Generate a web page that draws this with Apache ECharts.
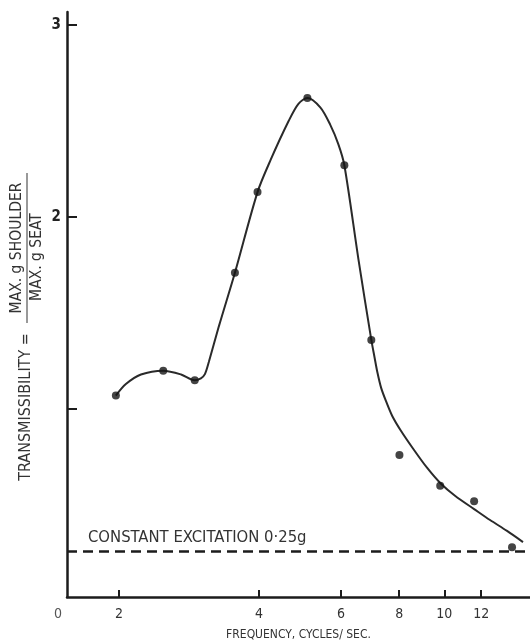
<!DOCTYPE html>
<html>
<head>
<meta charset="utf-8">
<script src="https://cdn.jsdelivr.net/npm/echarts@6/dist/echarts.min.js"></script>
<style>
html,body{margin:0;padding:0;background:#fff;}
#chart{width:530px;height:641px;}
</style>
</head>
<body>
<div id="chart"></div>
<script>
// ---- data ----
const measuredFreq = [1.97, 2.49, 2.91, 3.55, 3.97, 5.08, 6.10, 6.97, 8.01, 9.80, 11.59, 13.98];
const measuredVal  = [1.07, 1.20, 1.15, 1.71, 2.13, 2.62, 2.27, 1.36, 0.76, 0.60, 0.52, 0.28];

const curveFreq = [1.97, 2.07, 2.23, 2.49, 2.72, 2.91, 3.00, 3.06, 3.12, 3.28, 3.55, 3.97, 4.24, 4.63, 4.86, 5.08, 5.42, 5.69, 5.92, 6.10, 6.54, 6.97, 7.08, 7.18, 7.32, 7.51, 7.73, 8.05, 8.58, 9.19, 9.80, 10.56, 11.59, 12.54, 13.64, 14.76];
const curveVal  = [1.07, 1.13, 1.18, 1.20, 1.18, 1.15, 1.16, 1.182, 1.245, 1.432, 1.71, 2.13, 2.30, 2.50, 2.59, 2.62, 2.57, 2.48, 2.38, 2.27, 1.78, 1.36, 1.271, 1.193, 1.109, 1.036, 0.964, 0.891, 0.792, 0.693, 0.615, 0.547, 0.479, 0.422, 0.365, 0.307];

const excitationLevel = 0.26;
const excitationLabel = 'CONSTANT EXCITATION 0·25g';

const xTickValues = [2, 4, 6, 8, 10, 12];
const yTickValues = [1, 2, 3];
const yLabelValues = [2, 3];
const xMin = 1.547, xMax = 15.28;
const yMin = 0.021, yMax = 3.068;

const xName = 'FREQUENCY, CYCLES/ SEC.';
const yNameMain = 'TRANSMISSIBILITY =';
const yNameNum = 'MAX. g SHOULDER';
const yNameDen = 'MAX. g SEAT';

// ---- chart ----
const FONT = "'DejaVu Sans Condensed', 'DejaVu Sans', sans-serif";
const INK = '#1c1c1c';
const chart = echarts.init(document.getElementById('chart'), null, {renderer: 'canvas'});

const option = {
  animation: false,
  backgroundColor: '#ffffff',
  grid: {left: 67, right: 0, top: 12, bottom: 44, containLabel: false, outerBoundsMode: 'none'},
  xAxis: {
    type: 'log',
    min: xMin,
    max: xMax,
    name: xName,
    nameLocation: 'middle',
    nameGap: 32,
    nameTextStyle: {fontFamily: FONT, fontSize: 12, color: '#333'},
    axisLine: {show: true, lineStyle: {color: INK, width: 2.5}},
    axisTick: {show: true, inside: true, length: 7, lineStyle: {color: INK, width: 2}, customValues: xTickValues},
    axisLabel: {
      show: true, margin: 10, fontFamily: FONT, fontSize: 14, color: '#333',
      customValues: [xMin].concat(xTickValues),
      formatter: function (v) { return v < 1.9 ? '{z|0}' : String(Math.round(v)); },
      rich: {z: {fontFamily: FONT, fontSize: 14, color: '#555', padding: [0, 18, 0, 0]}}
    },
    splitLine: {show: false},
    minorTick: {show: false}
  },
  yAxis: {
    type: 'value',
    min: yMin,
    max: yMax,
    axisLine: {show: true, lineStyle: {color: INK, width: 2.5}},
    axisTick: {show: true, inside: true, length: 10, lineStyle: {color: INK, width: 2}, customValues: yTickValues},
    axisLabel: {
      show: true, margin: 6, fontFamily: FONT, fontSize: 15, fontWeight: 'bold', color: '#222',
      customValues: yLabelValues,
      formatter: function (v) { return String(Math.round(v)); }
    },
    splitLine: {show: false}
  },
  series: [
    {
      name: 'curve',
      type: 'line',
      data: curveFreq.map((f, i) => [f, curveVal[i]]),
      smooth: 0.3,
      showSymbol: false,
      symbol: 'none',
      lineStyle: {color: '#2a2a2a', width: 2},
      z: 3,
      markLine: {
        silent: true,
        symbol: ['none', 'none'],
        lineStyle: {color: INK, width: 2.5, type: [10, 6]},
        label: {show: false},
        data: [{yAxis: excitationLevel}]
      }
    },
    {
      name: 'measured',
      type: 'scatter',
      data: measuredFreq.map((f, i) => [f, measuredVal[i]]),
      symbol: 'circle',
      symbolSize: 8,
      itemStyle: {color: '#151515'},
      z: 4
    }
  ],
  graphic: [
    {type: 'text', x: 88, y: 538, style: {text: excitationLabel, fontFamily: FONT, fontSize: 16.5, fill: '#333', align: 'left', verticalAlign: 'middle'}},
    {type: 'text', x: 26, y: 407, rotation: Math.PI / 2, style: {text: yNameMain, fontFamily: FONT, fontSize: 16, fill: '#333', align: 'center', verticalAlign: 'middle'}},
    {type: 'text', x: 17, y: 248, rotation: Math.PI / 2, style: {text: yNameNum, fontFamily: FONT, fontSize: 15.5, fill: '#333', align: 'center', verticalAlign: 'middle'}},
    {type: 'line', shape: {x1: 27, y1: 173, x2: 27, y2: 323}, style: {stroke: '#999', lineWidth: 2}},
    {type: 'text', x: 37, y: 257, rotation: Math.PI / 2, style: {text: yNameDen, fontFamily: FONT, fontSize: 15.5, fill: '#333', align: 'center', verticalAlign: 'middle'}}
  ]
};
chart.setOption(option);
</script>
</body>
</html>
